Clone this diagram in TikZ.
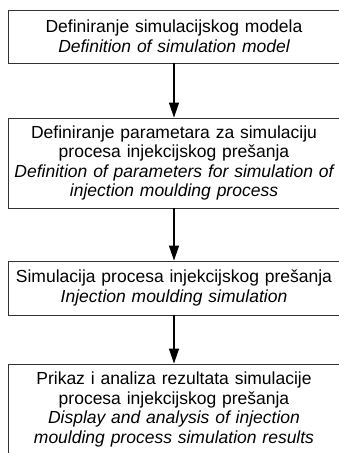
\documentclass[tikz,border=0pt]{standalone}
\usepackage{fontspec}
\setmainfont{Liberation Sans}
\usetikzlibrary{arrows.meta}

\tikzset{
    stepbox/.style={draw=black!80,line width=0.9pt,minimum width=332pt,text width=324pt,align=center,inner sep=0pt,font=\fontsize{17.5}{19.6}\selectfont},
    flow/.style={-{Triangle[length=15pt,width=10pt]},line width=1.3pt}
}

\begin{document}
\begin{tikzpicture}[x=1pt,y=-1pt]
    \useasboundingbox(0,0)rectangle(338,453);

    \node[stepbox,minimum height=53pt](model)at(174,36.5){Definiranje simulacijskog modela\\\itshape Definition of simulation model};
    \node[stepbox,minimum height=90pt](param)at(174,163){Definiranje parametara za simulaciju\\procesa injekcijskog prešanja\\\itshape Definition of parameters for simulation of\\\itshape injection moulding process};
    \node[stepbox,minimum height=54pt](sim)at(174,288){Simulacija procesa injekcijskog prešanja\\\itshape Injection moulding simulation};
    \node[stepbox,minimum height=91pt](result)at(174,409.5){Prikaz i analiza rezultata simulacije\\procesa injekcijskog prešanja\\\itshape Display and analysis of injection\\\itshape moulding process simulation results};

    \draw[flow](model)--(param);
    \draw[flow](param)--(sim);
    \draw[flow](sim)--(result);
\end{tikzpicture}
\end{document}
